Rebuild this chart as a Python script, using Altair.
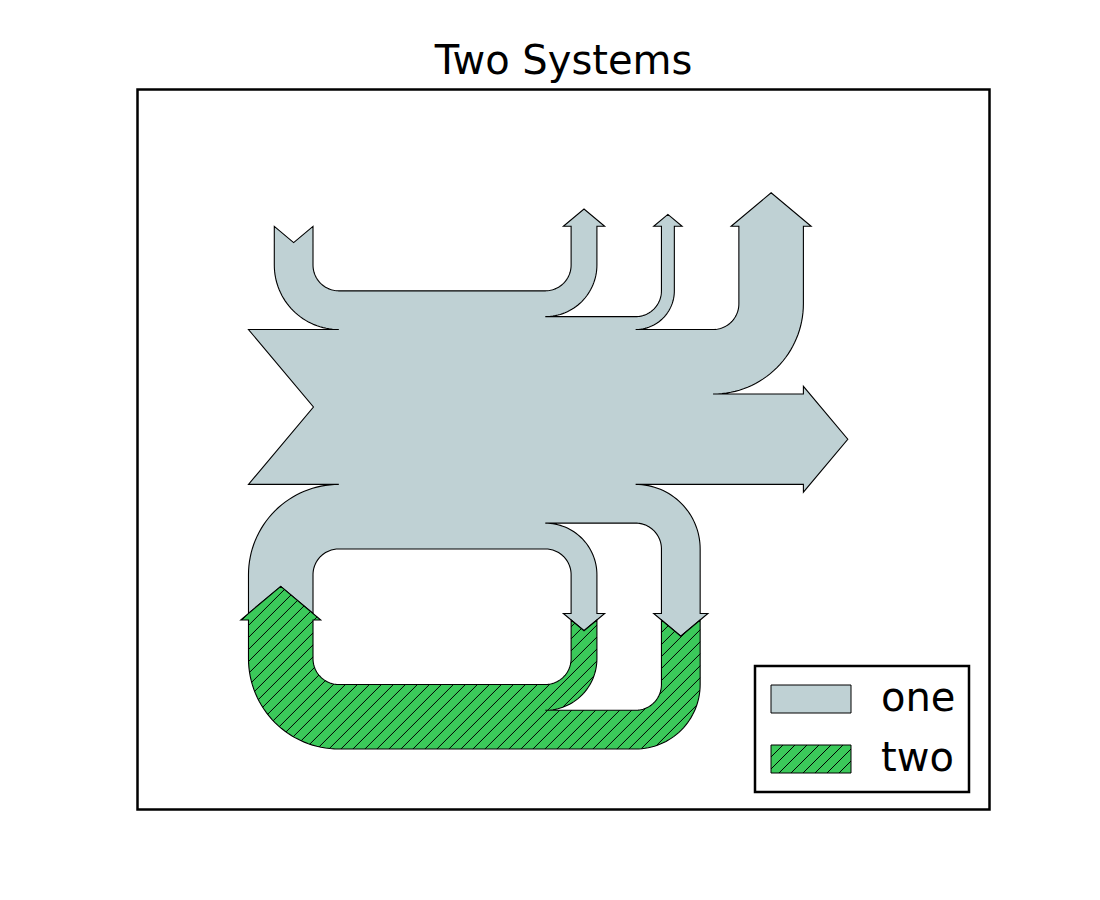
import numpy as np
import pandas as pd
import altair as alt

# Two connected Sankey systems (flows, orientations), as in the reference
flows_one = [0.25, 0.15, 0.60, -0.10, -0.05, -0.25, -0.15, -0.10, -0.35]
orient_one = [-1, 1, 0, 1, 1, 1, -1, -1, 0]
flows_two = [-0.25, 0.15, 0.10]
orient_two = [-1, -1, -1]
connect = (0, 0)  # flow 0 of system one <-> flow 0 of system two
labels = ["one", "two"]
colors = ["#bfd1d4", "#3bc95a"]

# Sankey layout settings
GAP, RADIUS, SHOULDER, HEAD_ANGLE, MARGIN = 0.25, 0.1, 0.03, 100, 0.4
TRUNK, PATHLEN = 1.0, 0.25
PITCH = np.tan(np.pi * (1 - HEAD_ANGLE / 180.0) / 2.0)
RIGHT, UP, DOWN = 0, 1, 3
ARC = np.array([[1.0, 0.0], [1.0, 0.265114773], [0.894571235, 0.519642327],
                [0.707106781, 0.707106781], [0.519642327, 0.894571235],
                [0.265114773, 1.0], [0.0, 1.0]])

W, H = 852, 720          # plot area in px
PX_PER_UNIT = 258.1      # equal aspect
HATCH_PX = 12


def arc(quadrant, cw, radius, center):
    if quadrant in (0, 2):
        v = ARC if cw else ARC[:, ::-1]
    else:
        v = np.column_stack((-ARC[:, 1], ARC[:, 0])) if cw else np.column_stack((-ARC[:, 0], ARC[:, 1]))
    if quadrant > 1:
        radius = -radius
    pts = radius * v + np.asarray(center)
    return [("L", tuple(pts[0]))] + [("C", tuple(p)) for p in pts[1:]]


def revert(path):
    out, nxt = [], "L"
    for code, pos in path[::-1]:
        out.append((nxt, pos))
        nxt = code
    return out


def add_input(path, angle, flow, length):
    x, y = path[-1][1]
    dipdepth = flow / 2 * PITCH
    if angle == RIGHT:
        x -= length
        dip = (x + dipdepth, y + flow / 2)
        path += [("L", (x, y)), ("L", dip), ("L", (x, y + flow)), ("L", (x + GAP, y + flow))]
    else:
        x -= GAP
        sign = 1 if angle == UP else -1
        dip = (x - flow / 2, y - sign * (length - dipdepth))
        quadrant = 2 if angle == DOWN else 1
        path += arc(quadrant, angle == UP, RADIUS, (x + RADIUS, y - sign * RADIUS))
        path += [("L", (x, y - sign * length)), ("L", dip), ("L", (x - flow, y - sign * length))]
        path += arc(quadrant, angle == DOWN, flow + RADIUS, (x + RADIUS, y - sign * RADIUS))
        path.append(("L", (x - flow, y + sign * flow)))
    return dip


def add_output(path, angle, flow, length):
    x, y = path[-1][1]
    tipheight = (SHOULDER - flow / 2) * PITCH
    if angle == RIGHT:
        x += length
        tip = (x + tipheight, y + flow / 2)
        path += [("L", (x, y)), ("L", (x, y + SHOULDER)), ("L", tip),
                 ("L", (x, y - SHOULDER + flow)), ("L", (x, y + flow)), ("L", (x - GAP, y + flow))]
    else:
        x += GAP
        sign, quadrant = (1, 3) if angle == UP else (-1, 0)
        tip = (x - flow / 2, y + sign * (length + tipheight))
        path += arc(quadrant, angle == UP, RADIUS, (x - RADIUS, y + sign * RADIUS))
        path += [("L", (x, y + sign * length)), ("L", (x - SHOULDER, y + sign * length)), ("L", tip),
                 ("L", (x + SHOULDER - flow, y + sign * length)), ("L", (x - flow, y + sign * length))]
        path += arc(quadrant, angle == DOWN, RADIUS - flow, (x - RADIUS, y + sign * RADIUS))
        path.append(("L", (x - flow, y + sign * flow)))
    return tip


def sankey(flows, orients):
    flows = np.asarray(flows, float)
    n = len(flows)
    gain, loss = flows[flows > 0].sum(), flows[flows < 0].sum()
    inputs = [f > 0 for f in flows]
    angles = []
    for f, o, inp in zip(flows, orients, inputs):
        if o == 0:
            angles.append(RIGHT)
        elif o == 1:
            angles.append(DOWN if inp else UP)
        else:
            angles.append(UP if inp else DOWN)
    lengths = [0.0] * n
    ul = ur = ll = lr = PATHLEN
    for i in range(n):
        if angles[i] == DOWN and inputs[i]:
            lengths[i] = ul; ul += flows[i]
        elif angles[i] == UP and not inputs[i]:
            lengths[i] = ur; ur -= flows[i]
    for i in reversed(range(n)):
        if angles[i] == UP and inputs[i]:
            lengths[i] = ll; ll += flows[i]
        elif angles[i] == DOWN and not inputs[i]:
            lengths[i] = lr; lr -= flows[i]

    a = GAP - TRUNK / 2
    urpath = [("M", (a, gain / 2)), ("L", (a / 2, gain / 2)), ("L", (a / 8, gain / 2)),
              ("L", (-a / 8, -loss / 2)), ("L", (-a / 2, -loss / 2)), ("L", (-a, -loss / 2))]
    llpath = [("L", (-a, loss / 2)), ("L", (-a / 2, loss / 2)), ("L", (-a / 8, loss / 2)),
              ("L", (a / 8, -gain / 2)), ("L", (a / 2, -gain / 2)), ("L", (a, -gain / 2))]
    lrpath = [("L", (-a, loss / 2))]
    ulpath = [("L", (a, gain / 2))]

    tips = np.zeros((n, 2))
    for i in range(n):
        if angles[i] == DOWN and inputs[i]:
            tips[i] = add_input(ulpath, angles[i], flows[i], lengths[i])
        elif angles[i] == UP and not inputs[i]:
            tips[i] = add_output(urpath, angles[i], flows[i], lengths[i])
    for i in reversed(range(n)):
        if angles[i] == UP and inputs[i]:
            tips[i] = add_input(llpath, angles[i], flows[i], lengths[i])
        elif angles[i] == DOWN and not inputs[i]:
            tips[i] = add_output(lrpath, angles[i], flows[i], lengths[i])
    has_left = False
    for i in reversed(range(n)):
        if angles[i] == RIGHT and inputs[i]:
            if not has_left:
                if llpath[-1][1][0] > ulpath[-1][1][0]:
                    llpath.append(("L", (ulpath[-1][1][0], llpath[-1][1][1])))
                has_left = True
            tips[i] = add_input(llpath, angles[i], flows[i], lengths[i])
    has_right = False
    for i in range(n):
        if angles[i] == RIGHT and not inputs[i]:
            if not has_right:
                if urpath[-1][1][0] < lrpath[-1][1][0]:
                    urpath.append(("L", (lrpath[-1][1][0], urpath[-1][1][1])))
                has_right = True
            tips[i] = add_output(urpath, angles[i], flows[i], lengths[i])
    if not has_left:
        ulpath.pop(); llpath.pop()
    if not has_right:
        lrpath.pop(); urpath.pop()
    path = urpath + revert(lrpath) + llpath + revert(ulpath) + [("L", urpath[0][1])]
    return flatten(path), tips, angles


def flatten(path, steps=16):
    pts, i = [], 0
    while i < len(path):
        code, p = path[i]
        if code == "C":
            p0 = np.array(pts[-1])
            c1, c2, p3 = (np.array(path[i + k][1]) for k in range(3))
            for t in np.linspace(0, 1, steps + 1)[1:]:
                pts.append((1 - t) ** 3 * p0 + 3 * (1 - t) ** 2 * t * c1 + 3 * (1 - t) * t ** 2 * c2 + t ** 3 * p3)
            i += 3
        else:
            pts.append(np.array(p, float))
            i += 1
    return np.array(pts)


verts_one, tips_one, angles_one = sankey(flows_one, orient_one)
verts_two, tips_two, angles_two = sankey(flows_two, orient_two)
# rotate + translate system two so that the connected flows meet
rot = (angles_one[connect[0]] - angles_two[connect[1]]) * np.pi / 2
R = np.array([[np.cos(rot), -np.sin(rot)], [np.sin(rot), np.cos(rot)]])
offset = tips_one[connect[0]] - R @ tips_two[connect[1]]
verts_two = verts_two @ R.T + offset

allv = np.vstack([verts_one, verts_two])
x_lo = allv[:, 0].min() - MARGIN
y_hi = allv[:, 1].max() + MARGIN
x_hi = x_lo + W / PX_PER_UNIT
y_lo = y_hi - H / PX_PER_UNIT

one_df = pd.DataFrame({"x": verts_one[:, 0], "y": verts_one[:, 1], "i": np.arange(len(verts_one))})
two_df = pd.DataFrame({"x": verts_two[:, 0], "y": verts_two[:, 1], "i": np.arange(len(verts_two))})

# '/' hatch segments clipped to system two's outline
d = HATCH_PX / PX_PER_UNIT
q = verts_two[:, 0] - verts_two[:, 1]
segs = []
for c in np.arange(np.floor(q.min() / d) * d, q.max(), d):
    ys = []
    for k in range(len(verts_two) - 1):
        (x1, y1), (x2, y2) = verts_two[k], verts_two[k + 1]
        d1, d2 = x1 - y1 - c, x2 - y2 - c
        if (d1 > 0) != (d2 > 0):
            u = d1 / (d1 - d2)
            ys.append(y1 + u * (y2 - y1))
    ys.sort()
    for ya, yb in zip(ys[0::2], ys[1::2]):
        segs.append((ya + c, ya, yb + c, yb))
hatch_df = pd.DataFrame(segs, columns=["x", "y", "x2", "y2"])

xenc = alt.X("x:Q", scale=alt.Scale(domain=[x_lo, x_hi], nice=False, zero=False), axis=None)
yenc = alt.Y("y:Q", scale=alt.Scale(domain=[y_lo, y_hi], nice=False, zero=False), axis=None)

gray = alt.Chart(one_df).mark_line(
    fill=colors[0], stroke="black", strokeWidth=1.1, interpolate="linear"
).encode(x=xenc, y=yenc, order="i:Q")
green_fill = alt.Chart(two_df).mark_line(
    fill=colors[1], strokeWidth=0, interpolate="linear"
).encode(x=xenc, y=yenc, order="i:Q")
hatch = alt.Chart(hatch_df).mark_rule(color="black", strokeWidth=1).encode(
    x=xenc, y=yenc, x2="x2:Q", y2="y2:Q"
)
green_edge = alt.Chart(two_df).mark_line(
    stroke="black", strokeWidth=1.1, interpolate="linear"
).encode(x=xenc, y=yenc, order="i:Q")

# legend symbols: wide rectangle, second one hatched
SYM_R, SHIFT, RW, RH = 14, -3, 80, 28
rx0, rx1 = -SYM_R + SHIFT, -SYM_R + SHIFT + RW
fmt = lambda v: f"{v / SYM_R:.4f}"
rect = f"M{fmt(rx0)},{fmt(-RH/2)}L{fmt(rx1)},{fmt(-RH/2)}L{fmt(rx1)},{fmt(RH/2)}L{fmt(rx0)},{fmt(RH/2)}Z"
hatch_path = ""
for c in np.arange(rx0 - RH / 2, rx1 + RH / 2, HATCH_PX):
    xa, xb = max(rx0, c - RH / 2), min(rx1, c + RH / 2)
    if xb > xa:
        hatch_path += f"M{fmt(xa)},{fmt(c - xa)}L{fmt(xb)},{fmt(c - xb)}"
shapes = [rect, rect + hatch_path]

leg = alt.Legend(
    title=None, orient="none", legendX=617.5, legendY=576.5, padding=13,
    fillColor="white", strokeColor="black", cornerRadius=0,
    labelFont="DejaVu Sans", labelFontSize=40, labelColor="black", labelOffset=73,
    rowPadding=20, symbolSize=(2 * SYM_R) ** 2, symbolStrokeWidth=1, symbolOpacity=1,
)
legend_df = pd.DataFrame({"label": labels})
legend_layer = alt.Chart(legend_df).mark_point(
    filled=True, opacity=0, strokeWidth=1, size=(2 * SYM_R) ** 2
).encode(
    x=alt.value(0), y=alt.value(0),
    fill=alt.Fill("label:N", scale=alt.Scale(domain=labels, range=colors), legend=leg),
    stroke=alt.Stroke("label:N", scale=alt.Scale(domain=labels, range=["black", "black"]), legend=leg),
    shape=alt.Shape("label:N", scale=alt.Scale(domain=labels, range=shapes), legend=leg),
)

chart = (
    alt.layer(gray, green_fill, hatch, green_edge, legend_layer)
    .properties(
        width=W, height=H,
        title=alt.Title("Two Systems", fontSize=40, font="DejaVu Sans", fontWeight="normal",
                        color="black", anchor="middle", offset=-6),
        autosize=alt.AutoSizeParams(type="none"),
        padding={"left": 129.5, "top": 81.5, "right": 100, "bottom": 80},
    )
    .configure_view(stroke="black", strokeWidth=2.5)
    .configure_legend(strokeWidth=2.5)
)

chart.save("out.html", embed_options={"renderer": "svg", "actions": False})
